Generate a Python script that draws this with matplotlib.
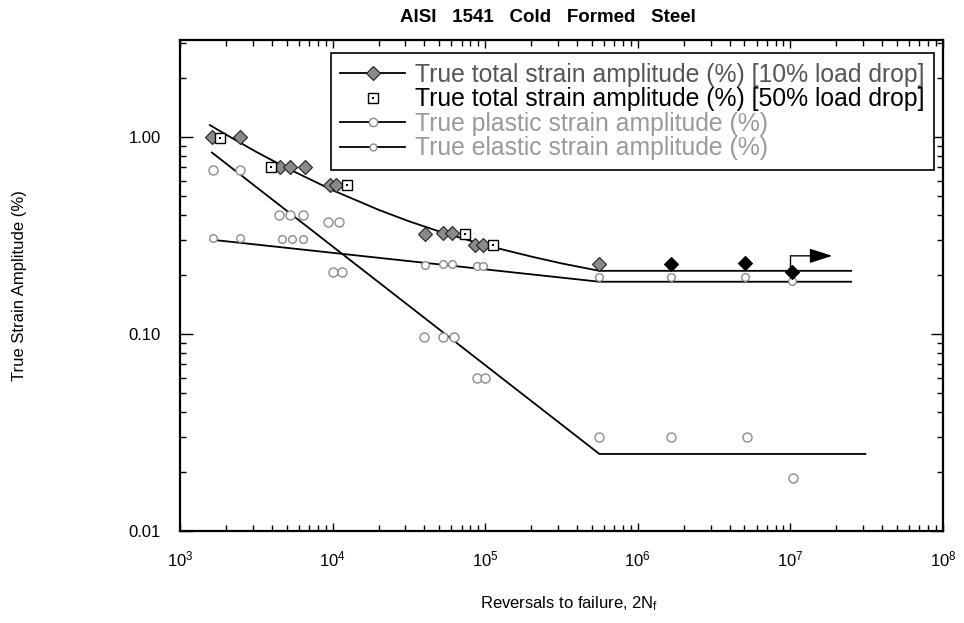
import matplotlib
matplotlib.use("Agg")
import matplotlib.pyplot as plt
from matplotlib.lines import Line2D
from matplotlib.legend_handler import HandlerTuple
from matplotlib.ticker import LogLocator, FixedLocator, FixedFormatter, NullFormatter

plt.rcParams['font.family'] = ['Liberation Sans', 'DejaVu Sans']
plt.rcParams['mathtext.fontset'] = 'custom'
plt.rcParams['mathtext.rm'] = 'Liberation Sans'
plt.rcParams['mathtext.it'] = 'Liberation Sans:italic'
plt.rcParams['mathtext.bf'] = 'Liberation Sans:bold'

# ---- data ----
total10_x = [1.62e3, 2.47e3, 4.52e3, 5.26e3, 6.59e3, 9.6e3, 1.06e4,
             4.03e4, 5.3e4, 6.1e4, 8.6e4, 9.7e4, 5.6e5]
total10_y = [1.0, 1.0, 0.707, 0.707, 0.707, 0.571, 0.571,
             0.321, 0.324, 0.324, 0.283, 0.283, 0.226]

runout_x = [1.65e6, 5.06e6, 1.02e7]
runout_y = [0.226, 0.228, 0.206]

total50_x = [1.83e3, 3.94e3, 1.24e4, 7.4e4, 1.12e5]
total50_y = [0.985, 0.707, 0.571, 0.321, 0.283]

plastic_x = [1.65e3, 2.47e3, 4.45e3, 5.26e3, 6.4e3, 9.3e3, 1.1e4, 1.01e4, 1.15e4,
             4.0e4, 5.3e4, 6.2e4, 8.8e4, 9.9e4, 5.6e5, 1.66e6, 5.2e6, 1.04e7]
plastic_y = [0.68, 0.68, 0.40, 0.40, 0.40, 0.37, 0.37, 0.205, 0.205,
             0.097, 0.097, 0.097, 0.060, 0.060, 0.030, 0.030, 0.030, 0.0186]

elastic_x = [1.65e3, 2.47e3, 4.64e3, 5.38e3, 6.44e3, 4.03e4, 5.3e4, 6.1e4,
             8.8e4, 9.7e4, 5.6e5, 1.65e6, 5.06e6, 1.02e7]
elastic_y = [0.306, 0.306, 0.302, 0.302, 0.302, 0.224, 0.227, 0.227,
             0.22, 0.22, 0.195, 0.195, 0.195, 0.185]

# fitted curves
total_fit_x = [1.57e3, 2e3, 3.16e3, 5e3, 1e4, 2e4, 3.16e4, 5e4, 1e5, 2e5, 3.16e5, 5.6e5, 2.5e7]
total_fit_y = [1.147, 1.027, 0.839, 0.695, 0.536, 0.4265, 0.373, 0.331, 0.282, 0.247, 0.228, 0.209, 0.209]

plastic_fit_x = [1.62e3, 5.6e5, 3.1e7]
plastic_fit_y = [0.832, 0.0246, 0.0246]

elastic_fit_x = [1.65e3, 5.6e5, 2.5e7]
elastic_fit_y = [0.30, 0.184, 0.184]

arrow_x = [1.0e7, 1.0e7, 1.88e7]
arrow_y = [0.218, 0.249, 0.249]

legend_labels = ["True total strain amplitude (%) [10% load drop]",
                 "True total strain amplitude (%) [50% load drop]",
                 "True plastic strain amplitude (%)",
                 "True elastic strain amplitude (%)"]

xtick_vals = [1e3, 1e4, 1e5, 1e6, 1e7, 1e8]
xtick_labels = [r"$\mathregular{10^{3}}$", r"$\mathregular{10^{4}}$", r"$\mathregular{10^{5}}$",
                r"$\mathregular{10^{6}}$", r"$\mathregular{10^{7}}$", r"$\mathregular{10^{8}}$"]
ytick_vals = [0.01, 0.1, 1.0]
ytick_labels = ["0.01", "0.10", "1.00"]

# ---- figure ----
fig = plt.figure(figsize=(9.64, 6.23), dpi=100)
ax = fig.add_axes([180/964, 1-531/623, 763/964, 491/623])
ax.set_xscale('log')
ax.set_yscale('log')
ax.set_xlim(1e3, 1e8)
ax.set_ylim(0.01, 3.1)

lw = 1.3
ax.plot(total_fit_x, total_fit_y, color='black', lw=lw, zorder=2)
ax.plot(plastic_fit_x, plastic_fit_y, color='black', lw=lw, zorder=2)
ax.plot(elastic_fit_x, elastic_fit_y, color='black', lw=lw, zorder=2)

ax.plot(plastic_x, plastic_y, ls='none', marker='o', ms=6.5, mfc='white',
        mec='#8c8c8c', mew=1.0, zorder=3)
ax.plot(elastic_x, elastic_y, ls='none', marker='o', ms=5.5, mfc='white',
        mec='#8c8c8c', mew=1.0, zorder=3)
ax.plot(total10_x, total10_y, ls='none', marker='D', ms=7.5, mfc='#8a8a8a',
        mec='#222222', mew=0.8, zorder=4)
ax.plot(runout_x, runout_y, ls='none', marker='D', ms=7.5, mfc='black',
        mec='black', mew=0.8, zorder=4)
ax.plot(total50_x, total50_y, ls='none', marker='s', ms=7, mfc='white',
        mec='black', mew=1.0, zorder=5)
ax.plot(total50_x, total50_y, ls='none', marker='s', ms=1.5, mfc='black',
        mec='black', mew=0, zorder=6)

# run-out arrow
ax.plot(arrow_x[:2], arrow_y[:2], color='black', lw=1.0, zorder=3)
ax.annotate("", xy=(arrow_x[2], arrow_y[2]), xytext=(arrow_x[1], arrow_y[1]),
            arrowprops=dict(arrowstyle='-|>,head_length=1.4,head_width=0.45',
                            color='black', lw=1.0, shrinkA=0, shrinkB=0), zorder=3)

# ticks
ax.xaxis.set_major_locator(FixedLocator(xtick_vals))
ax.xaxis.set_major_formatter(FixedFormatter(xtick_labels))
ax.xaxis.set_minor_locator(LogLocator(base=10, subs=range(2, 10), numticks=20))
ax.xaxis.set_minor_formatter(NullFormatter())
ax.yaxis.set_major_locator(FixedLocator(ytick_vals))
ax.yaxis.set_major_formatter(FixedFormatter(ytick_labels))
ax.yaxis.set_minor_locator(LogLocator(base=10, subs=range(2, 10), numticks=20))
ax.yaxis.set_minor_formatter(NullFormatter())

ax.tick_params(which='both', direction='in', top=True, right=True, width=1.0)
ax.tick_params(axis='x', which='major', length=6, pad=13, labelsize=12)
ax.tick_params(axis='y', which='major', length=9, pad=14, labelsize=12)
ax.tick_params(which='minor', length=4)
for s in ax.spines.values():
    s.set_linewidth(1.6)

ax.set_xlabel(r"Reversals to failure, 2N$_{\mathregular{f}}$", fontsize=12)
ax.xaxis.set_label_coords(0.51, (531-594)/491)
ax.set_ylabel("True Strain Amplitude (%)", fontsize=12)
ax.yaxis.set_label_coords((27-180)/763, 0.5)
fig.text(548/964, 1-18/623, "AISI   1541   Cold   Formed   Steel", ha='center', va='center',
         fontsize=13.5, fontweight='bold')

# legend
h1 = Line2D([], [], color='black', lw=lw, marker='D', ms=7.5, mfc='#8a8a8a', mec='#222222', mew=0.8)
h2a = Line2D([], [], ls='none', marker='s', ms=7, mfc='white', mec='black', mew=1.0)
h2b = Line2D([], [], ls='none', marker='s', ms=1.5, mfc='black', mec='black', mew=0)
h3 = Line2D([], [], color='black', lw=lw, marker='o', ms=6, mfc='white', mec='#8c8c8c', mew=1.0)
h4 = Line2D([], [], color='black', lw=lw, marker='o', ms=5, mfc='white', mec='#8c8c8c', mew=1.0)
leg = ax.legend([h1, (h2a, h2b), h3, h4], legend_labels,
                handler_map={tuple: HandlerTuple(ndivide=1, pad=0)},
                loc='upper right', bbox_to_anchor=(934/964, 1-53/623),
                bbox_transform=fig.transFigure, borderaxespad=0,
                fontsize=17.8, handlelength=2.6, handletextpad=0.4,
                labelspacing=0.02, borderpad=0.4, fancybox=False,
                framealpha=1, edgecolor='black')
leg.get_frame().set_linewidth(1.2)
text_colors = ['#555555', 'black', '#9a9a9a', '#9a9a9a']
for t, c in zip(leg.get_texts(), text_colors):
    t.set_color(c)

fig.savefig("out.png", dpi=100)
